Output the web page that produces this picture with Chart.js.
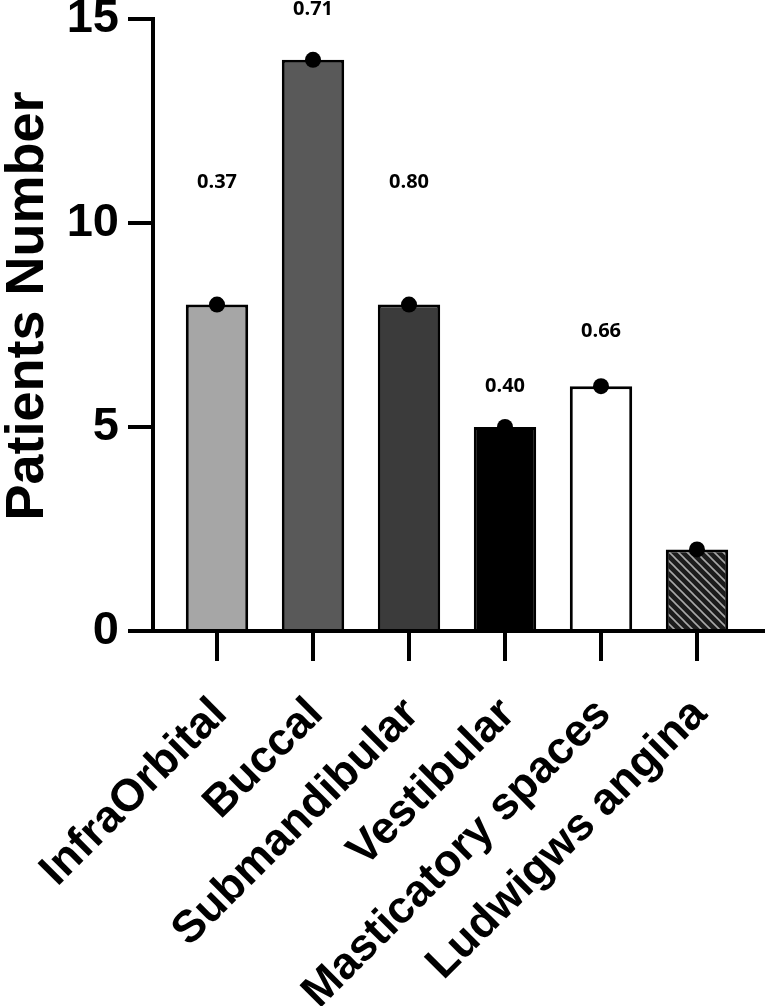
<!DOCTYPE html>
<html>
<head>
<meta charset="utf-8">
<script src="https://cdn.jsdelivr.net/npm/chart.js@4.4.0/dist/chart.umd.min.js"></script>
<style>
  html, body { margin: 0; padding: 0; background: #fff; }
</style>
</head>
<body>
<canvas id="grafico" width="768" height="1006"></canvas>
<script>
// Dados do gráfico
const categorias = ["InfraOrbital", "Buccal", "Submandibular", "Vestibular", "Masticatory spaces", "Ludwigws angina"];
const pacientes = [8, 14, 8, 5, 6, 2];
const valoresP = ["0.37", "0.71", "0.80", "0.40", "0.66", null];
const alturaValorP = [11, 15.25, 11, 6, 7.35, null]; // altura (em pacientes) onde fica cada texto
const ticksY = [0, 5, 10, 15];
const tituloY = "Patients Number";

const FONTE = "'Liberation Sans', Arial, sans-serif";
const canvas = document.getElementById("grafico");
const ctx = canvas.getContext("2d");

// Hachura da última barra
function hachura() {
  const c = document.createElement("canvas");
  c.width = 9; c.height = 9;
  const g = c.getContext("2d");
  g.fillStyle = "#1c1c1c";
  g.fillRect(0, 0, 9, 9);
  g.strokeStyle = "#a8a8a8";
  g.lineWidth = 1.6;
  g.beginPath();
  g.moveTo(-1, -1); g.lineTo(10, 10);
  g.moveTo(-1, 8); g.lineTo(1, 10);
  g.moveTo(8, -1); g.lineTo(10, 1);
  g.stroke();
  return ctx.createPattern(c, "repeat");
}

const coresBarras = ["#a6a6a6", "#595959", "#3b3b3b", "#000000", "#ffffff", hachura()];

// Eixos estilo Prism (eixo y deslocado) + título do eixo y
const eixos = {
  id: "eixos",
  afterDraw(chart) {
    const { ctx, chartArea, scales: { y } } = chart;
    const x0 = chartArea.left - 16;
    const y0 = y.getPixelForValue(0);
    ctx.save();
    ctx.strokeStyle = "#000";
    ctx.lineWidth = 4;
    ctx.beginPath();
    ctx.moveTo(x0, y0);
    ctx.lineTo(x0, y.getPixelForValue(15) - 2);
    ticksY.forEach(v => {
      const py = y.getPixelForValue(v);
      ctx.moveTo(x0 - 25, py);
      ctx.lineTo(x0, py);
    });
    ctx.moveTo(x0 - 25, y0);
    ctx.lineTo(765, y0);
    ctx.stroke();

    // título
    ctx.translate(43, 306);
    ctx.rotate(-Math.PI / 2);
    ctx.fillStyle = "#000";
    ctx.font = "bold 54px " + FONTE;
    ctx.textAlign = "center";
    ctx.textBaseline = "alphabetic";
    ctx.fillText(tituloY, 0, 0);
    ctx.restore();
  }
};

// Valores de p acima das barras
const textosP = {
  id: "textosP",
  afterDatasetsDraw(chart) {
    const { ctx, scales: { x, y } } = chart;
    ctx.save();
    ctx.fillStyle = "#000";
    ctx.font = "bold 20px 'Open Sans', sans-serif";
    ctx.textAlign = "center";
    ctx.textBaseline = "middle";
    valoresP.forEach((t, i) => {
      if (t === null) return;
      ctx.fillText(t, x.getPixelForValue(i), y.getPixelForValue(alturaValorP[i]));
    });
    ctx.restore();
  }
};

new Chart(canvas, {
  type: "bar",
  data: {
    labels: categorias,
    datasets: [
      {
        type: "line",
        data: pacientes,
        showLine: false,
        pointRadius: 8,
        pointBackgroundColor: "#000",
        pointBorderWidth: 0,
        order: 0
      },
      {
        data: pacientes,
        backgroundColor: coresBarras,
        borderColor: "#000",
        borderWidth: 3,
        categoryPercentage: 1,
        barPercentage: 0.65,
        order: 1
      }
    ]
  },
  options: {
    responsive: false,
    animation: false,
    layout: { padding: { top: 19, right: 23, left: 0, bottom: 0 } },
    plugins: { legend: { display: false }, tooltip: { enabled: false } },
    scales: {
      x: {
        offset: true,
        grid: { display: true, drawOnChartArea: false, drawTicks: true, tickLength: 30, offset: false, color: "#000", lineWidth: 4 },
        border: { display: false },
        ticks: {
          color: "#000",
          font: { family: FONTE, size: 45, weight: "bold", lineHeight: 1 },
          minRotation: 45, maxRotation: 45, autoSkip: false, padding: 30, labelOffset: 3
        },
        afterFit(s) { s.height = 375; s.paddingLeft = 0; s.paddingRight = 0; }
      },
      y: {
        min: 0, max: 15,
        ticks: {
          stepSize: 5, color: "#000", padding: 50,
          font: { family: FONTE, size: 47, weight: "bold", lineHeight: 1 }
        },
        grid: { display: false, drawTicks: false },
        border: { display: false },
        afterFit(s) { s.width = 169; s.paddingTop = 0; s.paddingBottom = 0; }
      }
    }
  },
  plugins: [eixos, textosP]
});
</script>
</body>
</html>
